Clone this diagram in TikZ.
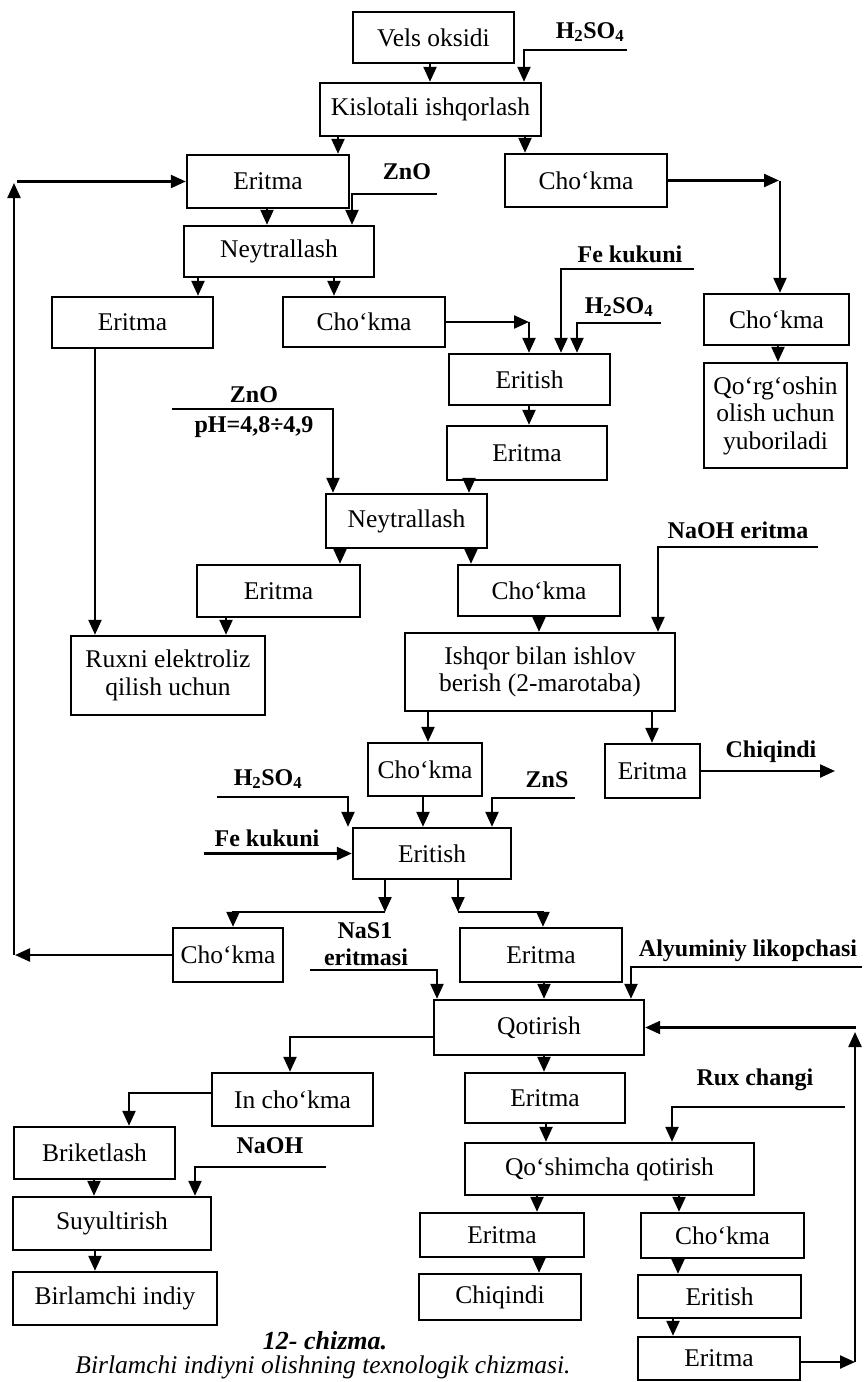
\documentclass[tikz,border=0pt]{standalone}
\usepackage{fontspec}
\setmainfont{Liberation Serif}
\usetikzlibrary{arrows.meta}
\newcommand\bx[6]{%
  \pgfmathsetmacro\myBW{#4-#2}\pgfmathsetmacro\myBH{#5-#3}%
  \node[box,minimum width=\myBW pt,minimum height=\myBH pt] (#1) at ({(#2+#4)/2},{(#3+#5)/2}) {#6};}
\newcommand\hso{H\textsubscript{2}SO\textsubscript{4}}
\begin{document}
\begin{tikzpicture}[x=1pt,y=-1pt,
  box/.style={draw,line width=2.4pt,inner sep=1pt,align=center,font=\fontsize{25.5}{27.5}\selectfont},
  lbl/.style={font=\bfseries\fontsize{24}{26}\selectfont,inner sep=0pt,align=center},
  arr/.style={line width=2.3pt,-{Triangle[length=15pt,width=13pt]}},
  ln/.style={line width=2.3pt}]
\useasboundingbox (0,0) rectangle (865,1382);
% boxes
\bx{vels}{353}{12}{514}{63}{Vels oksidi}
\bx{kis}{320}{83}{541}{136}{Kislotali ishqorlash}
\bx{er1}{187}{155}{349}{208}{Eritma}
\bx{ch1}{505}{154}{667}{207}{Cho‘kma}
\bx{ney1}{184}{226}{374}{277}{Neytrallash}
\bx{er2}{52}{297}{213}{348}{Eritma}
\bx{ch2}{283}{297}{445}{347}{Cho‘kma}
\bx{ch3}{704}{294}{849}{345}{Cho‘kma}
\bx{qor}{704}{363}{847}{468}{Qo‘rg‘oshin\\olish uchun\\yuboriladi}
\bx{eri1}{449}{354}{610}{405}{Eritish}
\bx{er3}{447}{426}{607}{480}{Eritma}
\bx{ney2}{326}{494}{487}{548}{Neytrallash}
\bx{er4}{197}{565}{360}{617}{Eritma}
\bx{ch4}{458}{565}{620}{616}{Cho‘kma}
\bx{rux}{71}{636}{265}{715}{Ruxni elektroliz\\qilish uchun}
\bx{ish}{405}{633}{675}{711}{Ishqor bilan ishlov\\berish (2-marotaba)}
\bx{ch5}{368}{743}{482}{796}{Cho‘kma}
\bx{er5}{605}{744}{700}{798}{Eritma}
\bx{eri2}{353}{828}{511}{879}{Eritish}
\bx{ch6}{173}{928}{283}{982}{Cho‘kma}
\bx{er6}{460}{928}{622}{982}{Eritma}
\bx{qot}{434}{1000}{644}{1055}{Qotirish}
\bx{inch}{212}{1073}{373}{1126}{In cho‘kma}
\bx{er7}{465}{1073}{625}{1123}{Eritma}
\bx{bri}{14}{1127}{175}{1179}{Briketlash}
\bx{qos}{465}{1143}{754}{1195}{Qo‘shimcha qotirish}
\bx{suy}{13}{1197}{211}{1250}{Suyultirish}
\bx{er8}{420}{1213}{584}{1257}{Eritma}
\bx{ch8}{641}{1213}{804}{1258}{Cho‘kma}
\bx{bir}{13}{1272}{217}{1325}{Birlamchi indiy}
\bx{chq}{419}{1274}{581}{1320}{Chiqindi}
\bx{eri3}{638}{1275}{801}{1318}{Eritish}
\bx{er9}{638}{1337}{800}{1380}{Eritma}
% labels
\node[lbl] (lh1) at (590,32) {\hso};
\node[lbl] (lzn1) at (407,172) {ZnO};
\node[lbl] (lfe1) at (630,254) {Fe kukuni};
\node[lbl] (lh2) at (619,307) {\hso};
\node[lbl] (lzn2) at (254,395) {ZnO};
\node[lbl] (lph) at (254,427) {pH=4,8÷4,9};
\node[lbl] (lnaoh1) at (738,530) {NaOH eritma};
\node[lbl] (lchq) at (771,752) {Chiqindi};
\node[lbl] (lh3) at (268,779) {\hso};
\node[lbl] (lzns) at (547,780) {ZnS};
\node[lbl] (lfe2) at (267,838) {Fe kukuni};
\node[lbl] (lnas) at (365,931) {NaS1};
\node[lbl] (lnas2) at (366,957) {eritmasi};
\node[lbl] (lal) at (748,951) {Alyuminiy likopchasi};
\node[lbl] (lrux) at (755,1080) {Rux changi};
\node[lbl] (lnaoh2) at (270,1146) {NaOH};
\node[lbl,font=\bfseries\itshape\fontsize{26}{28}\selectfont] (cap1) at (325,1341) {12- chizma.};
\node[lbl,font=\itshape\fontsize{25.5}{27}\selectfont] (cap2) at (323,1367) {Birlamchi indiyni olishning texnologik chizmasi.};
% free ends
\coordinate (c1) at (627,50);
\coordinate (c2) at (437,194);
\coordinate (c3) at (694,269);
\coordinate (c4) at (661,323);
\coordinate (c5) at (172,409);
\coordinate (c6) at (818,547);
\coordinate (c7) at (835,771);
\coordinate (c8) at (217,797);
\coordinate (c9) at (204,853.5);
\coordinate (c10) at (575,798);
\coordinate (c11) at (310,970);
\coordinate (c12) at (862,967);
\coordinate (c13) at (845,1107);
\coordinate (c14) at (326,1167);
% connectors
\draw[arr] (vels.south -| 430,0) -- (kis.north -| 430,0);
\draw[arr] (c1) -- (524,50) -- (kis.north -| 524,0);
\draw[arr] (kis.south -| 338,0) -- (er1.north -| 338,0);
\draw[arr] (kis.south -| 525,0) -- (ch1.north -| 525,0);
\draw[arr] (c2) -- (352,194) -- (ney1.north -| 352,0);
\draw[arr] (er1.south -| 267,0) -- (ney1.north -| 267,0);
\draw[arr] (ch6.west) -- (15,955);
\draw[arr] (14,955) -- (14,183);
\draw[arr] (17,181.5) -- (er1.west);
\draw[arr] (ch1.east) -- (779,180.5);
\draw[arr] (780,180.5) -- (ch3.north -| 780,0);
\draw[arr] (ch3.south -| 778,0) -- (qor.north -| 778,0);
\draw[arr] (ney1.south -| 198,0) -- (er2.north -| 198,0);
\draw[arr] (ney1.south -| 334,0) -- (ch2.north -| 334,0);
\draw[arr] (er2.south -| 95,0) -- (rux.north -| 95,0);
\draw[arr] (ch2.east) -- (529,322);
\draw[arr] (529,322) -- (eri1.north -| 529,0);
\draw[arr] (c3) -- (561,269) -- (eri1.north -| 561,0);
\draw[arr] (c4) -- (577,323) -- (eri1.north -| 577,0);
\draw[arr] (eri1.south -| 529,0) -- (er3.north -| 529,0);
\draw[arr] (c5) -- (333,409) -- (ney2.north -| 333,0);
\draw[arr] (er3.south -| 469,0) -- (ney2.north -| 469,0);
\draw[arr] (ney2.south -| 340,0) -- (er4.north -| 340,0);
\draw[arr] (ney2.south -| 471,0) -- (ch4.north -| 471,0);
\draw[arr] (er4.south -| 226,0) -- (rux.north -| 226,0);
\draw[arr] (ch4.south -| 539,0) -- (ish.north -| 539,0);
\draw[arr] (c6) -- (658,547) -- (ish.north -| 658,0);
\draw[arr] (ish.south -| 428,0) -- (ch5.north -| 428,0);
\draw[arr] (ish.south -| 652,0) -- (er5.north -| 652,0);
\draw[arr] (er5.east) -- (c7);
\draw[arr] (c8) -- (348,797) -- (eri2.north -| 348,0);
\draw[arr] (c9) -- (eri2.west);
\draw[arr] (ch5.south -| 423,0) -- (eri2.north -| 423,0);
\draw[arr] (c10) -- (492,798) -- (eri2.north -| 492,0);
\draw[arr] (eri2.south -| 385,0) -- (385,912);
\draw[arr] (385,912) -- (233,912) -- (ch6.north -| 233,0);
\draw[arr] (eri2.south -| 458,0) -- (458,912);
\draw[arr] (458,912) -- (543,912) -- (er6.north -| 543,0);
\draw[arr] (c11) -- (437,970) -- (qot.north -| 437,0);
\draw[arr] (er6.south -| 544,0) -- (qot.north -| 544,0);
\draw[arr] (c12) -- (631,967) -- (qot.north -| 631,0);
\draw[arr] (qot.west |- 0,1037) -- (290,1037) -- (inch.north -| 290,0);
\draw[arr] (qot.south -| 544,0) -- (er7.north -| 544,0);
\draw[arr] (er9.east |- 0,1362) -- (855,1362);
\draw[arr] (855,1362) -- (855,1032);
\draw[arr] (856,1027.5) -- (qot.east);
\draw[arr] (inch.west |- 0,1093) -- (129,1093) -- (bri.north -| 129,0);
\draw[arr] (bri.south -| 94,0) -- (suy.north -| 94,0);
\draw[arr] (c14) -- (195,1167) -- (suy.north -| 195,0);
\draw[arr] (suy.south -| 95,0) -- (bir.north -| 95,0);
\draw[arr] (er7.south -| 546,0) -- (qos.north -| 546,0);
\draw[arr] (c13) -- (672,1107) -- (qos.north -| 672,0);
\draw[arr] (qos.south -| 537,0) -- (er8.north -| 537,0);
\draw[arr] (qos.south -| 679,0) -- (ch8.north -| 679,0);
\draw[arr] (er8.south -| 539,0) -- (chq.north -| 539,0);
\draw[arr] (ch8.south -| 678,0) -- (eri3.north -| 678,0);
\draw[arr] (eri3.south -| 673,0) -- (er9.north -| 673,0);
\end{tikzpicture}
\end{document}
